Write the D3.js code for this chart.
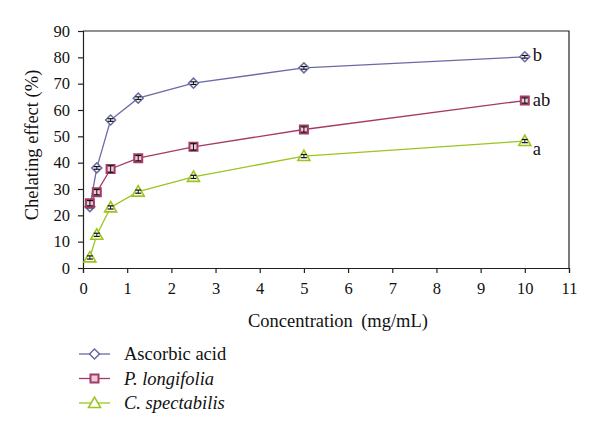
<!DOCTYPE html>
<html>
<head>
<meta charset="utf-8">
<script src="https://cdn.jsdelivr.net/npm/d3@7"></script>
<style>
  html, body { margin: 0; padding: 0; background: #fff; }
  svg { display: block; }
  svg text { font-family: "Liberation Serif", "Times New Roman", serif !important; fill: #111; }
</style>
</head>
<body>
<svg id="chart" width="600" height="433"></svg>
<script>
// ---- data ----
const concentrations = [0.156, 0.3125, 0.625, 1.25, 2.5, 5, 10];
const seriesNames = ["Ascorbic acid", "P. longifolia", "C. spectabilis"];
const ascorbic = [23.3, 38, 56.2, 64.5, 70.2, 76, 80.2];
const longifolia = [24.6, 28.8, 37.6, 41.7, 46, 52.6, 63.6];
const spectabilis = [4, 12.6, 23, 29, 34.6, 42.5, 48.2];
const ascorbicErr = [0.5, 0.5, 0.5, 0.5, 0.5, 0.5, 0.5];
const longifoliaErr = [1, 1, 1.2, 1, 1.2, 1, 1];
const spectabilisErr = [0.6, 0.6, 0.6, 0.6, 0.6, 0.6, 0.6];
const xTicks = [0, 1, 2, 3, 4, 5, 6, 7, 8, 9, 10, 11];
const yTicks = [0, 10, 20, 30, 40, 50, 60, 70, 80, 90];
const letters = ["b", "ab", "a"];
const xTitle = "Concentration\u2009 (mg/mL)";
const yTitle = "Chelating effect (%)";

(function () {
const svg = d3.select("#chart");
const pL = 83, pR = 569, pT = 31, pB = 268;
const x = d3.scaleLinear().domain([0, 11]).range([pL, pR]);
const y = d3.scaleLinear().domain([0, 90]).range([pB, pT]);

const colors = ["#6a6aa6", "#a43a66", "#9cc41e"];
const shapes = [d3.symbolSquare, d3.symbolSquare, d3.symbolTriangle];
const sizes = [50, 64, 62];
const rot = [45, 0, 0];
const fills = ["#fff", "#eccbd9", "#fff"];
const sw = [1.5, 2, 1.6];
const values = [ascorbic, longifolia, spectabilis];
const errs = [ascorbicErr, longifoliaErr, spectabilisErr];
const serif = '"Liberation Serif", "Times New Roman", serif';

// frame (top & right)
svg.append("path")
  .attr("d", `M${pL},${pT}H${pR}V${pB}`)
  .attr("fill", "none").attr("stroke", "#222").attr("stroke-width", 1.2);

// axes
const yAxis = svg.append("g").attr("transform", `translate(${pL},0)`)
  .call(d3.axisLeft(y).tickValues(yTicks).tickSize(5).tickPadding(8));
const xAxis = svg.append("g").attr("transform", `translate(0,${pB})`)
  .call(d3.axisBottom(x).tickValues(xTicks).tickSize(5).tickPadding(9));
[xAxis, yAxis].forEach(g => {
  g.attr("font-family", serif).attr("font-size", 16.5);
  g.select(".domain").attr("stroke", "#222").attr("stroke-width", 1.2);
  g.selectAll(".tick line").attr("stroke", "#222").attr("stroke-width", 1.2);
  g.selectAll(".tick text").attr("fill", "#111");
});

// axis titles
svg.append("text").attr("x", 338).attr("y", 327)
  .attr("text-anchor", "middle").attr("font-family", serif).attr("font-size", 18.5).text(xTitle);
svg.append("text")
  .attr("transform", `translate(38,145) rotate(-90)`)
  .attr("text-anchor", "middle").attr("font-family", serif).attr("font-size", 18.5).text(yTitle);

// series
const line = d3.line().x(d => x(d[0])).y(d => y(d[1]));
values.forEach((vals, i) => {
  const pts = concentrations.map((c, j) => [c, vals[j], errs[i][j]]);
  const g = svg.append("g");
  g.append("path").datum(pts).attr("d", line)
    .attr("fill", "none").attr("stroke", colors[i]).attr("stroke-width", 1.3);
  g.selectAll(".m").data(pts).enter().append("path")
    .attr("transform", d => `translate(${x(d[0])},${y(d[1]) + (i === 2 ? 1 : 0)}) rotate(${rot[i]})`)
    .attr("d", d3.symbol().type(shapes[i]).size(sizes[i]))
    .attr("fill", fills[i])
    .attr("stroke", colors[i]).attr("stroke-width", sw[i]);
  const eb = g.selectAll(".e").data(pts).enter().append("g");
  eb.append("line")
    .attr("x1", d => x(d[0])).attr("x2", d => x(d[0]))
    .attr("y1", d => y(d[1] - d[2])).attr("y2", d => y(d[1] + d[2]))
    .attr("stroke", "#111").attr("stroke-width", 1);
  [1, -1].forEach(s => {
    eb.append("line")
      .attr("x1", d => x(d[0]) - 3).attr("x2", d => x(d[0]) + 3)
      .attr("y1", d => y(d[1] + s * d[2])).attr("y2", d => y(d[1] + s * d[2]))
      .attr("stroke", "#111").attr("stroke-width", 1.2);
  });
});

// significance letters
const letterDy = [4.5, 5, 14];
letters.forEach((t, i) => {
  svg.append("text")
    .attr("x", x(concentrations[concentrations.length - 1]) + 8)
    .attr("y", y(values[i][values[i].length - 1]) + letterDy[i])
    .attr("font-family", serif).attr("font-size", 18.5).text(t);
});

// legend
const legend = svg.append("g");
seriesNames.forEach((name, i) => {
  const ly = 354 + i * 24.5;
  legend.append("line").attr("x1", 79).attr("x2", 110).attr("y1", ly).attr("y2", ly)
    .attr("stroke", colors[i]).attr("stroke-width", 1.3);
  legend.append("path").attr("transform", `translate(94.5,${ly + (i === 2 ? 1 : 0)}) rotate(${rot[i]})`)
    .attr("d", d3.symbol().type(shapes[i]).size(sizes[i]))
    .attr("fill", fills[i])
    .attr("stroke", colors[i]).attr("stroke-width", sw[i]);
  legend.append("text").attr("x", 124).attr("y", ly + 6)
    .attr("font-family", serif).attr("font-size", 18.5)
    .attr("font-style", i === 0 ? "normal" : "italic")
    .text(name);
});
})();
</script>
</body>
</html>
